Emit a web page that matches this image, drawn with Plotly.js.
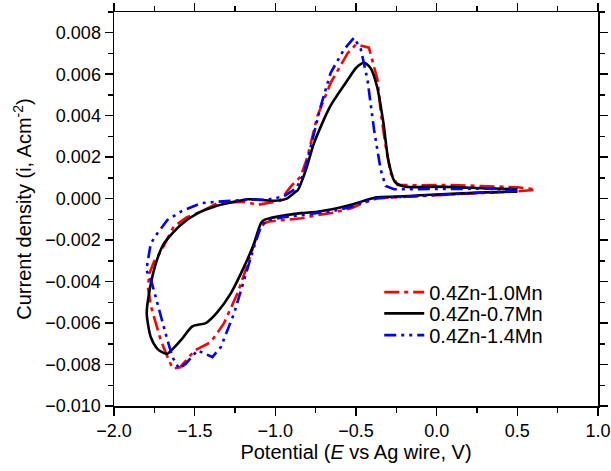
<!DOCTYPE html>
<html>
<head>
<meta charset="utf-8">
<script src="https://cdn.plot.ly/plotly-3.0.1.min.js"></script>
<style>html,body{margin:0;padding:0;background:#fff;}#chart{width:611px;height:471px;}</style>
</head>
<body>
<div id="chart"></div>
<script>
// Potential (V vs Ag wire) and current density (A cm^-2), traced around each CV loop
const seriesNames = ["0.4Zn-1.0Mn", "0.4Zn-0.7Mn", "0.4Zn-1.4Mn"];

const redV = [0.60, 0.50, 0.30, 0.09, -0.10, -0.25, -0.37, -0.45, -0.53, -0.64, -0.74, -0.84, -0.95, -1.04, -1.07, -1.11, -1.17, -1.235, -1.32, -1.40, -1.50, -1.59, -1.635, -1.66, -1.71, -1.77, -1.79, -1.78, -1.75, -1.71, -1.63, -1.55, -1.46, -1.36, -1.28, -1.19, -1.11, -1.05, -0.97, -0.905, -0.843, -0.80, -0.74, -0.657, -0.553, -0.50, -0.42, -0.367, -0.346, -0.316, -0.285, -0.243, -0.10, 0.09, 0.30, 0.50, 0.60];
const redI = [0.00042, 0.00035, 0.00028, 0.0002, 0.00013, 0.00008, 0.00002, -0.0002, -0.00046, -0.00068, -0.00079, -0.00095, -0.00105, -0.0011, -0.00119, -0.00167, -0.00313, -0.00458, -0.00603, -0.00692, -0.00732, -0.00813, -0.0082, -0.0078, -0.00683, -0.00522, -0.00426, -0.0036, -0.003, -0.00256, -0.00135, -0.0009, -0.00063, -0.00022, -0.00018, -0.00015, -0.0003, -0.0002, -0.0001, 0.00058, 0.00106, 0.00203, 0.00397, 0.00558, 0.0070, 0.00744, 0.00728, 0.00574, 0.00413, 0.00252, 0.00123, 0.00066, 0.00064, 0.00066, 0.0006, 0.00055, 0.00045];

const blackV = [0.50, 0.30, 0.09, -0.10, -0.25, -0.37, -0.45, -0.53, -0.64, -0.74, -0.84, -0.95, -1.03, -1.07, -1.09, -1.132, -1.194, -1.277, -1.359, -1.431, -1.514, -1.587, -1.669, -1.69, -1.731, -1.772, -1.797, -1.783, -1.741, -1.69, -1.587, -1.483, -1.38, -1.277, -1.17, -1.09, -1.00, -0.93, -0.88, -0.86, -0.81, -0.76, -0.66, -0.55, -0.50, -0.45, -0.41, -0.37, -0.33, -0.30, -0.26, -0.20, 0.00, 0.30, 0.50];
const blackI = [0.00034, 0.0003, 0.00023, 0.00016, 0.0001, 0.00007, -0.0001, -0.0003, -0.0005, -0.00063, -0.0007, -0.00082, -0.00093, -0.00103, -0.00119, -0.00216, -0.00329, -0.00458, -0.00547, -0.0060, -0.00616, -0.00684, -0.00748, -0.00745, -0.00724, -0.00668, -0.00554, -0.00458, -0.00313, -0.00216, -0.00127, -0.00071, -0.00039, -0.00019, -0.00003, -0.00006, -0.0001, 0.0, 0.0003, 0.00042, 0.0014, 0.00268, 0.00445, 0.00574, 0.0063, 0.00655, 0.0063, 0.00542, 0.00365, 0.00187, 0.00082, 0.00058, 0.00058, 0.0005, 0.00045];

const blueV = [0.50, 0.30, 0.09, -0.10, -0.25, -0.37, -0.45, -0.53, -0.64, -0.74, -0.84, -0.95, -1.049, -1.09, -1.132, -1.194, -1.256, -1.338, -1.39, -1.483, -1.555, -1.597, -1.638, -1.68, -1.721, -1.77, -1.80, -1.79, -1.772, -1.731, -1.669, -1.58, -1.46, -1.36, -1.19, -1.05, -0.95, -0.87, -0.822, -0.78, -0.719, -0.657, -0.574, -0.512, -0.47, -0.429, -0.388, -0.347, -0.316, -0.264, 0.0, 0.30, 0.50];
const blueI = [0.00038, 0.0003, 0.00022, 0.00014, 0.00008, 0.00002, -0.00015, -0.00039, -0.0006, -0.0007, -0.00078, -0.0009, -0.00103, -0.00135, -0.00232, -0.00393, -0.00554, -0.00716, -0.00764, -0.00732, -0.00796, -0.0082, -0.00764, -0.00651, -0.00539, -0.00393, -0.00345, -0.003, -0.00216, -0.00167, -0.00103, -0.0006, -0.00022, -0.00015, -0.00006, -0.00005, 0.0001, 0.0005, 0.00123, 0.00252, 0.00445, 0.00607, 0.0072, 0.00776, 0.0072, 0.00574, 0.00332, 0.00139, 0.00061, 0.00045, 0.00045, 0.00048, 0.0005];

const xTickVals = [-2.0, -1.5, -1.0, -0.5, 0.0, 0.5, 1.0];
const yTickVals = [-0.010, -0.008, -0.006, -0.004, -0.002, 0.000, 0.002, 0.004, 0.006, 0.008];

const FONT = "Liberation Sans, Arial, Helvetica, sans-serif";

const traces = [
  {x: redV, y: redI, name: seriesNames[0], mode: "lines", legend: "legend",
   line: {color: "#ff0000", width: 2.6, dash: "15px,5px,4px,5px"}},
  {x: blackV, y: blackI, name: seriesNames[1], mode: "lines", legend: "legend2",
   line: {color: "#000000", width: 2.6, shape: "spline", smoothing: 0.7}},
  {x: blueV, y: blueI, name: seriesNames[2], mode: "lines", legend: "legend3",
   line: {color: "#0000ff", width: 2.6, dash: "12px,5px,3px,5px,3px,5px"}}
];

const axisCommon = {
  showline: true, linecolor: "#000", linewidth: 1.5, mirror: "ticks",
  ticks: "outside", ticklen: 8, tickwidth: 1.5, tickcolor: "#000",
  showgrid: false, zeroline: false,
  tickfont: {family: FONT, size: 18, color: "#000"}
};

function legendAt(yPaper) {
  return {x: 0.548, y: yPaper, xanchor: "left", yanchor: "middle",
          bgcolor: "rgba(0,0,0,0)", borderwidth: 0, itemwidth: 40,
          font: {family: FONT, size: 20, color: "#000"}};
}

const layout = {
  width: 611, height: 471,
  margin: {l: 114, r: 13, t: 12, b: 65},
  paper_bgcolor: "#fff", plot_bgcolor: "#fff",
  font: {family: FONT, color: "#000"},
  showlegend: true,
  legend: legendAt(0.289),
  legend2: legendAt(0.235),
  legend3: legendAt(0.180),
  xaxis: Object.assign({}, axisCommon, {
    range: [-2.0, 1.0], tickvals: xTickVals, tickformat: ".1f",
    minor: {dtick: 0.25, ticks: "outside", ticklen: 5, tickwidth: 1.5, tickcolor: "#000", showgrid: false},
    title: {text: "Potential (<i>E</i> vs Ag wire, V)", font: {family: FONT, size: 20, color: "#000"}, standoff: 4}
  }),
  yaxis: Object.assign({}, axisCommon, {
    range: [-0.010, 0.009], tickvals: yTickVals, tickformat: ".3f",
    minor: {dtick: 0.001, ticks: "outside", ticklen: 5, tickwidth: 1.5, tickcolor: "#000", showgrid: false},
    title: {text: "Current density (i, Acm<sup>-2</sup>)", font: {family: FONT, size: 20, color: "#000"}, standoff: 8}
  })
};

Plotly.newPlot("chart", traces, layout, {staticPlot: true, displayModeBar: false});
</script>
</body>
</html>
